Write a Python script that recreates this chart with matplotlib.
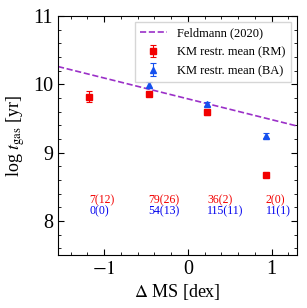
import matplotlib
matplotlib.use('Agg')
import numpy as np
import matplotlib.pyplot as plt

# Data
rm_x = [-1.18, -0.47, 0.23, 0.93]
rm_y = [9.82, 9.86, 9.59, 8.67]
rm_err = [0.08, 0.03, 0.04, 0.02]

ba_x = [-0.47, 0.23, 0.93]
ba_y = [9.99, 9.71, 9.25]
ba_err = [0.04, 0.03, 0.03]

feld_x = [-1.55, 1.30]
feld_y = [10.26, 9.39]

rm_counts = ['7(12)', '79(26)', '36(2)', '2(0)']
ba_counts = ['0(0)', '54(13)', '115(11)', '11(1)']

plt.rcParams['font.family'] = ['Liberation Serif', 'DejaVu Serif']
plt.rcParams['mathtext.fontset'] = 'stix'

red = '#f20000'
blue = '#1550ee'
purple = '#9b30c8'

fig = plt.figure(figsize=(3.07, 3.08), dpi=100)
ax = fig.add_axes([0.189, 0.172, 0.778, 0.776])

ax.plot(feld_x, feld_y, ls='--', color=purple, lw=1.2, label='Feldmann (2020)')
ax.errorbar(rm_x, rm_y, yerr=rm_err, fmt='s', color=red, ms=5, capsize=2,
            elinewidth=0.8, capthick=0.8, label='KM restr. mean (RM)')
ax.errorbar(ba_x, ba_y, yerr=ba_err, fmt='^', color=blue, ms=5, capsize=2,
            elinewidth=0.8, capthick=0.8, label='KM restr. mean (BA)')

for x, s in zip(rm_x, rm_counts):
    ax.text(x, 8.30, s, color=red, fontsize=8.5, ha='left', va='center')
for x, s in zip(rm_x, ba_counts):
    ax.text(x, 8.14, s, color='#0000ee', fontsize=8.5, ha='left', va='center')

ax.set_xlim(-1.55, 1.3)
ax.set_ylim(7.5, 11)
ax.set_xticks([-1, 0, 1])
ax.set_yticks([8, 9, 10, 11])
ax.set_xticklabels(['$-1$', '0', '1'])
ax.minorticks_on()
ax.tick_params(which='both', direction='in', top=True, right=True, labelsize=14.5)
ax.tick_params(which='major', length=4)
ax.tick_params(which='minor', length=2)

ax.set_xlabel(r'$\Delta$ MS [dex]', fontsize=13, labelpad=2)
ax.set_ylabel(r'log $t_{\rm gas}$ [yr]', fontsize=13, labelpad=4)

ax.legend(loc='upper right', fontsize=9, frameon=True, fancybox=False,
          edgecolor='#cccccc', handlelength=2.2, labelspacing=0.55,
          borderaxespad=0.5)

plt.savefig('out.png', dpi=100)
